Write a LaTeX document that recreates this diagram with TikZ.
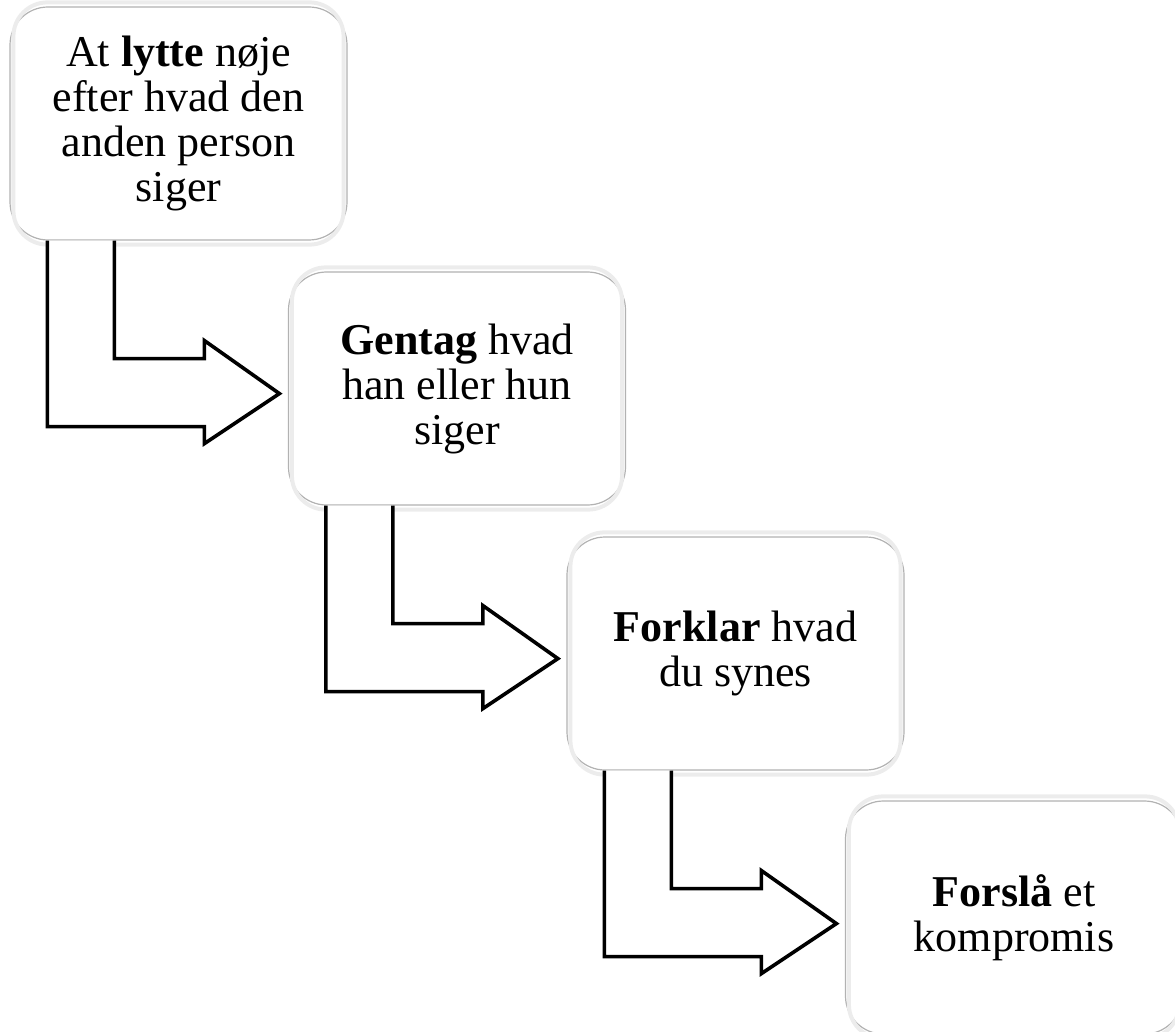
\documentclass[tikz,border=0pt]{standalone}
\usepackage{fontspec}
\setmainfont{Liberation Serif}
\begin{document}
\begin{tikzpicture}[x=1pt,y=-1pt,
  stepbox/.style={rectangle, rounded corners=38pt, minimum width=337pt, minimum height=233pt,
    fill=white, draw=gray!60, line width=1.2pt, align=center, inner sep=0pt,
    font=\fontsize{44}{45}\selectfont},
  bevel/.style={draw=gray!15, line width=4pt, rounded corners=34pt},
  arrowline/.style={draw=black, line width=3.6pt, line join=miter, fill=white},
  bentarrow/.pic={
    \path[arrowline] (38,0) -- (38,186) -- (195,186) -- (195,203) -- (270,153) -- (195,100) -- (195,118) -- (105,118) -- (105,0);
  }]
\useasboundingbox (0,0) rectangle (1175,1032);
\clip (0,0) rectangle (1175,1032);
\node[stepbox] (b1) at (178.5,123.5) {At \textbf{lytte} nøje\\efter hvad den\\anden person\\siger};
\node[stepbox] (b2) at (457,388.5) {\textbf{Gentag} hvad\\han eller hun\\siger};
\node[stepbox] (b3) at (735.5,653.5) {\textbf{Forklar} hvad\\du synes};
\node[stepbox] (b4) at (1014,917.5) {\textbf{Forslå} et\\kompromis};
\foreach \b in {b1,b2,b3,b4}{
  \draw[bevel] ([shift={(4pt,4pt)}]\b.north west) rectangle ([shift={(-4pt,-4pt)}]\b.south east);
}
\pic at (b1.south west) {bentarrow};
\pic at (b2.south west) {bentarrow};
\pic at (b3.south west) {bentarrow};
\end{tikzpicture}
\end{document}
